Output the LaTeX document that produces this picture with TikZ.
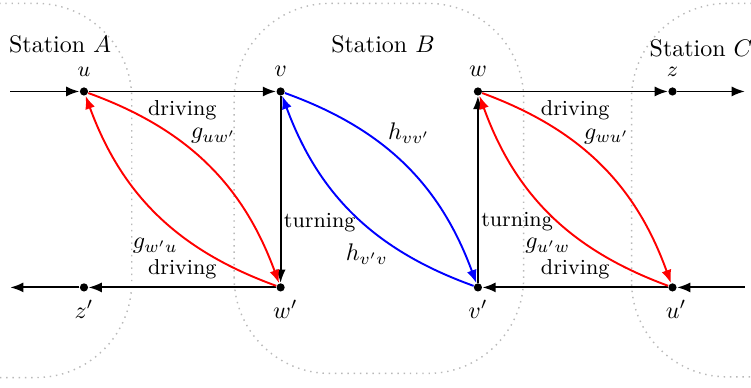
\documentclass[tikz,border=0pt]{standalone}
\usetikzlibrary{arrows.meta}

\begin{document}
\begin{tikzpicture}[
      >={Latex[length=5.5pt,width=4.2pt]},
      stop/.style={circle,fill,inner sep=0pt,minimum size=0.12cm},
      arrow/.style={->,thick},
      gmove/.style={->,thick,red,bend left=25},
      hmove/.style={->,thick,blue,bend left=25},
      act/.style={font=\small},
      cost/.style={text=black,inner sep=1pt},
      station/.style={draw=gray!55,dotted,semithick,rounded corners=1.4cm}
    ]
      \clip (0,0) rectangle (11.0,5.67);

      \draw[station] (-2.2,0.14) rectangle (1.93,5.62);
      \draw[station] (3.43,0.20) rectangle (7.67,5.62);
      \draw[station] (9.25,0.15) rectangle (12.6,5.62);

      \node (stA) at (0.88,5.02) {Station $A$};
      \node (stB) at (5.61,5.02) {Station $B$};
      \node (stC) at (10.27,4.96) {Station $C$};

      \node[stop,label={[font=\small,label distance=1pt]above:$u$}] (u) at (1.23,4.33) {};
      \node[stop,label={[label distance=1pt]above:$v$}] (v) at (4.11,4.33) {};
      \node[stop,label={[label distance=1pt]above:$w$}] (w) at (7.00,4.33) {};
      \node[stop,label={[font=\small,label distance=1pt]above:$z$}] (z) at (9.85,4.33) {};
      \node[stop,label={below:$z'$}] (zp) at (1.23,1.46) {};
      \node[stop,label={[xshift=2pt]below:$w'$}] (wp) at (4.11,1.46) {};
      \node[stop,label={below:$v'$}] (vp) at (7.00,1.46) {};
      \node[stop,label={[xshift=1.5pt]below:$u'$}] (up) at (9.85,1.46) {};

      \coordinate (inA) at (0.15,4.33);
      \coordinate (outC) at (10.91,4.33);
      \coordinate (inC) at (10.91,1.46);
      \coordinate (outA) at (0.15,1.46);

      \draw[arrow] (inA) -- (u);
      \draw[arrow] (u) -- node[below,act]{driving} (v);
      \draw[arrow] (w) -- node[below,act]{driving} (z);
      \draw[arrow] (z) -- (outC);
      \draw[arrow] (inC) -- (up);
      \draw[arrow] (up) -- node[above,act]{driving} (vp);
      \draw[arrow] (wp) -- node[above,act]{driving} (zp);
      \draw[arrow] (zp) -- (outA);
      \draw[arrow] (v) -- node[right,act,pos=0.68,inner sep=1pt]{turning} (wp);
      \draw[arrow] (vp) -- node[right,act,pos=0.33,inner sep=1pt]{turning} (w);

      \draw[gmove] (u) to node[cost,pos=0.4,above right]{$g_{uw'}$} (wp);
      \draw[gmove] (wp) to node[cost,pos=0.38,below left]{$g_{w'u}$} (u);
      \draw[hmove] (v) to node[cost,pos=0.4,above right]{$h_{vv'}$} (vp);
      \draw[hmove] (vp) to node[cost,pos=0.33,below left,inner sep=0pt]{$h_{v'v}$} (v);
      \draw[gmove] (w) to node[cost,pos=0.4,above right]{$g_{wu'}$} (up);
      \draw[gmove] (up) to node[cost,pos=0.38,below left]{$g_{u'w}$} (w);
    \end{tikzpicture}
\end{document}
